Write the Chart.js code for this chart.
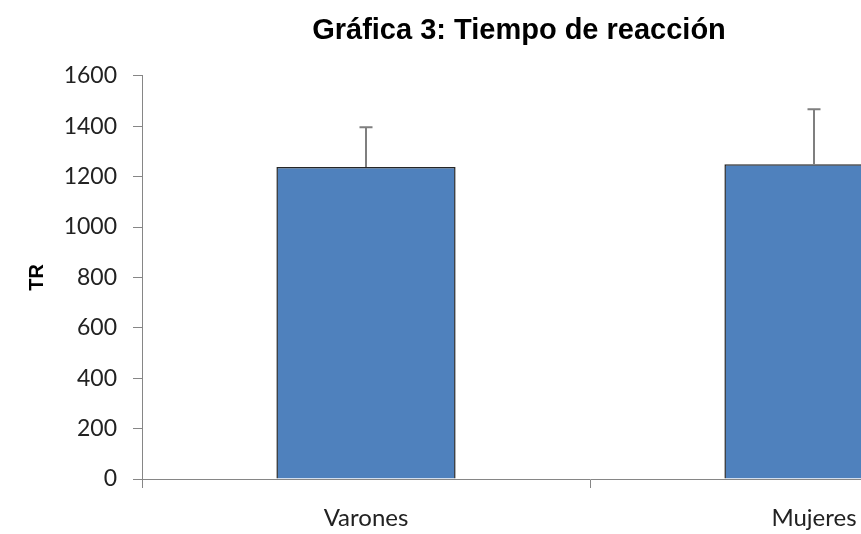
<!DOCTYPE html>
<html>
<head>
<meta charset="utf-8">
<script src="https://cdn.jsdelivr.net/npm/chart.js@4/dist/chart.umd.min.js"></script>
<style>
  html, body { margin: 0; padding: 0; background: #ffffff; overflow: hidden; width: 861px; height: 534px; }
  #wrap { width: 1046px; height: 534px; }
</style>
</head>
<body>
<div id="wrap"><canvas id="c" width="1046" height="534"></canvas></div>
<script>
const categories = ['Varones', 'Mujeres'];
const meanValues = [1238, 1249];
const errorValues = [158, 218];
const yTicks = [0, 200, 400, 600, 800, 1000, 1200, 1400, 1600];
const chartTitle = 'Gráfica 3: Tiempo de reacción';
const yTitle = 'TR';

const errorBarPlugin = {
  id: 'errorBars',
  afterDatasetsDraw(chart) {
    const ctx = chart.ctx;
    const meta = chart.getDatasetMeta(0);
    const yScale = chart.scales.y;
    ctx.save();
    ctx.strokeStyle = '#7f7f7f';
    ctx.lineWidth = 2;
    meta.data.forEach((bar, i) => {
      const x = Math.round(bar.x);
      const yBase = yScale.getPixelForValue(meanValues[i]);
      const yTop = yScale.getPixelForValue(meanValues[i] + errorValues[i]);
      ctx.beginPath();
      ctx.moveTo(x, yBase);
      ctx.lineTo(x, yTop);
      ctx.moveTo(x - 6.5, yTop);
      ctx.lineTo(x + 6.5, yTop);
      ctx.stroke();
    });
    ctx.restore();
  }
};

new Chart(document.getElementById('c'), {
  type: 'bar',
  data: {
    labels: categories,
    datasets: [{
      data: meanValues,
      backgroundColor: '#4f81bd',
      borderColor: '#262626',
      borderWidth: 1.5,
      borderSkipped: 'bottom',
      barPercentage: 1,
      categoryPercentage: 0.4
    }]
  },
  options: {
    responsive: false,
    devicePixelRatio: 1,
    animation: false,
    layout: { padding: { left: 0, right: 8, top: 0, bottom: 0 } },
    plugins: {
      legend: { display: false },
      tooltip: { enabled: false },
      title: {
        display: true,
        text: chartTitle,
        color: '#000000',
        font: { family: '"Liberation Sans", Arial, sans-serif', size: 29, weight: 'bold' },
        padding: { top: 14, bottom: 27 }
      }
    },
    scales: {
      x: {
        offset: true,
        grid: {
          display: true,
          offset: true,
          drawOnChartArea: false,
          drawTicks: true,
          tickLength: 9,
          color: '#868686',
          lineWidth: 1
        },
        border: { display: true, color: '#868686', width: 1 },
        ticks: {
          color: '#222222',
          padding: 16,
          font: { family: 'Lato, sans-serif', size: 24 }
        },
        afterFit(scale) { scale.height = 55; }
      },
      y: {
        min: 0,
        max: 1600,
        afterBuildTicks(scale) { scale.ticks = yTicks.map(v => ({ value: v })); },
        grid: {
          display: true,
          drawOnChartArea: false,
          drawTicks: true,
          tickLength: 9,
          color: '#868686',
          lineWidth: 1
        },
        border: { display: true, color: '#868686', width: 1 },
        ticks: {
          color: '#222222',
          padding: 16,
          font: { family: 'Lato, sans-serif', size: 23 },
          callback: (v) => String(v)
        },
        title: {
          display: true,
          text: yTitle,
          color: '#000000',
          font: { family: '"Liberation Sans", Arial, sans-serif', size: 20, weight: 'bold' },
          padding: { top: 25, bottom: 0 }
        },
        afterFit(scale) { scale.width = 142; }
      }
    }
  },
  plugins: [errorBarPlugin]
});
</script>
</body>
</html>
